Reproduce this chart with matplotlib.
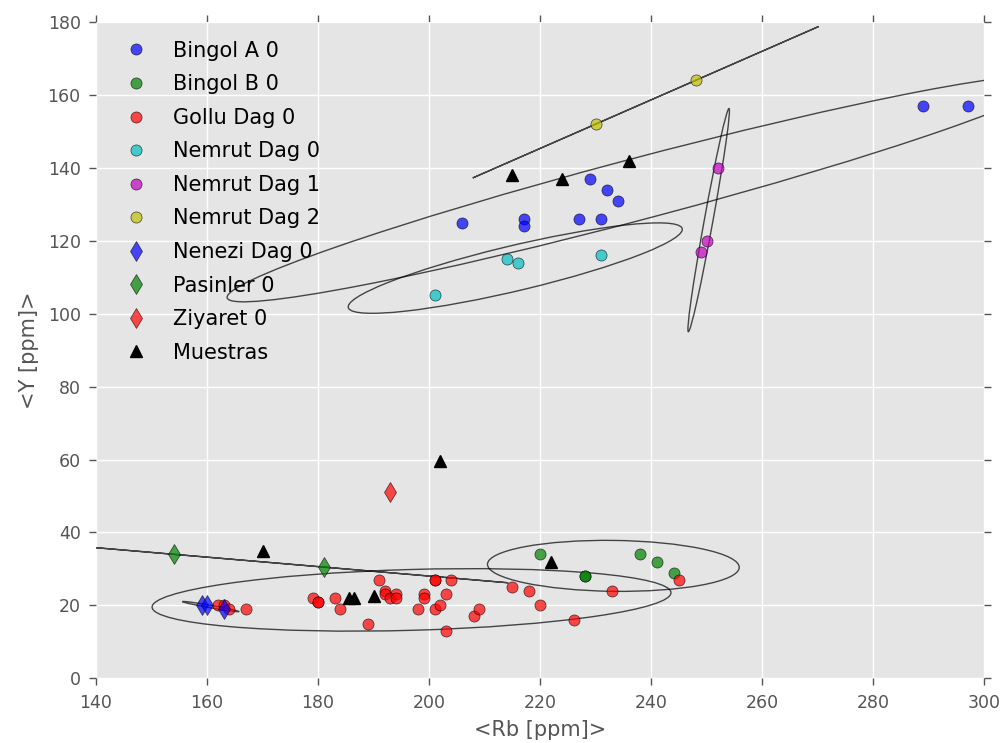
import numpy as np
import matplotlib
matplotlib.use('Agg')
import matplotlib.pyplot as plt
from matplotlib.patches import Ellipse

# ---------------- data ----------------
bingol_a_x = [206, 217, 217, 227, 229, 232, 231, 234, 289, 297]
bingol_a_y = [125, 126, 124, 126, 137, 134, 126, 131, 157, 157]

bingol_b_x = [220, 228, 228, 238, 241, 244]
bingol_b_y = [34, 28, 28, 34, 32, 29]

gollu_x = [162, 163, 164, 167, 179, 180, 180, 183, 184, 189, 191, 192, 192, 193, 194,
           194, 198, 199, 199, 201, 201, 201, 202, 203, 203, 204, 208, 209, 215,
           218, 220, 226, 233, 245]
gollu_y = [20, 20, 19, 19, 22, 21, 21, 22, 19, 15, 27, 24, 23, 22, 23,
           22, 19, 23, 22, 27, 27, 19, 20, 23, 13, 27, 17, 19, 25,
           24, 20, 16, 24, 27]

nemrut0_x = [201, 214, 216, 231]
nemrut0_y = [105, 115, 114, 116]

nemrut1_x = [252, 250, 249]
nemrut1_y = [140, 120, 117]

nemrut2_x = [230, 248]
nemrut2_y = [152, 164]

nenezi_x = [159, 160, 163]
nenezi_y = [20, 20, 19]

pasinler_x = [154, 181]
pasinler_y = [34, 30.5]

ziyaret_x = [193]
ziyaret_y = [51]

muestras_x = [215, 224, 236, 170, 202, 222, 185.5, 186.5, 190]
muestras_y = [138, 137, 142, 35, 59.5, 32, 22, 22, 22.5]

groups = [
    ("Bingol A 0", bingol_a_x, bingol_a_y, 'o', 'b'),
    ("Bingol B 0", bingol_b_x, bingol_b_y, 'o', 'g'),
    ("Gollu Dag 0", gollu_x, gollu_y, 'o', 'r'),
    ("Nemrut Dag 0", nemrut0_x, nemrut0_y, 'o', 'c'),
    ("Nemrut Dag 1", nemrut1_x, nemrut1_y, 'o', 'm'),
    ("Nemrut Dag 2", nemrut2_x, nemrut2_y, 'o', 'y'),
    ("Nenezi Dag 0", nenezi_x, nenezi_y, 'd', 'b'),
    ("Pasinler 0", pasinler_x, pasinler_y, 'd', 'g'),
    ("Ziyaret 0", ziyaret_x, ziyaret_y, 'd', 'r'),
]

# ---------------- figure ----------------
plt.rcParams['font.family'] = ['DejaVu Sans']
fig = plt.figure(figsize=(10.01, 7.43), dpi=100)
ax = fig.add_axes([0.0959, 0.0871, 0.8876, 0.8833])
ax.set_facecolor('#E5E5E5')
for s in ax.spines.values():
    s.set_visible(False)
ax.grid(True, color='white', lw=1)
ax.set_axisbelow(True)


def conf_ellipse(ax, x, y, k=2.4477):
    if len(x) < 2:
        return
    cov = np.cov(x, y)
    vals, vecs = np.linalg.eigh(cov)
    order = vals.argsort()[::-1]
    vals, vecs = vals[order], vecs[:, order]
    angle = np.degrees(np.arctan2(vecs[1, 0], vecs[0, 0]))
    w, h = 2 * k * np.sqrt(np.clip(vals, 0, None))
    e = Ellipse((np.mean(x), np.mean(y)), w, h, angle=angle, fill=False,
                edgecolor='k', alpha=0.7, lw=1, zorder=2)
    ax.add_patch(e)


for name, x, y, m, c in groups:
    conf_ellipse(ax, np.array(x, float), np.array(y, float))

for name, x, y, m, c in groups:
    ms = 8 if m == 'o' else 10
    ax.plot(x, y, linestyle='none', marker=m, color=c, markersize=ms,
            markeredgecolor='k', markeredgewidth=0.5, alpha=0.7, label=name, zorder=3)

ax.plot(muestras_x, muestras_y, linestyle='none', marker='^', color='k',
        markersize=8, label='Muestras', zorder=4)

ax.set_xlim(140, 300)
ax.set_ylim(0, 180)
ax.set_xticks(np.arange(140, 301, 20))
ax.set_yticks(np.arange(0, 181, 20))
ax.tick_params(direction='out', top=True, right=True, colors='#555555',
               length=5, width=1, pad=6, labelsize=12.5)
ax.set_xlabel('<Rb [ppm]>', fontsize=15, color='#555555', labelpad=6)
ax.set_ylabel('<Y [ppm]>', fontsize=15, color='#555555', labelpad=6)

leg = ax.legend(loc='upper left', numpoints=1, frameon=False, fontsize=15,
                labelspacing=0.65)

fig.savefig('out.png', dpi=100)
